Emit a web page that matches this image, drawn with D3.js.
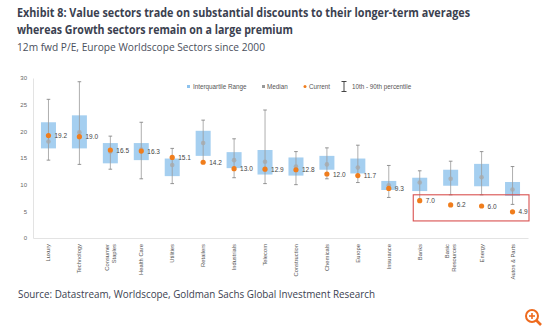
<!DOCTYPE html>
<html>
<head>
<meta charset="utf-8">
<script src="https://cdn.jsdelivr.net/npm/d3@7"></script>
<style>
  body { margin: 0; background: #fff; }
  svg { display: block; font-family: "Open Sans", "DejaVu Sans", sans-serif; }
</style>
</head>
<body>
<svg id="chart" width="554" height="330"></svg>
<script>
// sectors, left to right
var sectors = ["Luxury", "Technology", "Consumer Staples", "Health Care", "Utilities", "Retailers",
    "Industrials", "Telecom", "Construction", "Chemicals", "Europe", "Insurance", "Banks",
    "Basic Resources", "Energy", "Autos & Parts"];
// 10th / 25th / median / 75th / 90th percentile, current
var p10 = [14.6, 13.8, 12.9, 11.1, 10.2, 14.3, 11.3, 10.2, 10.0, 11.1, 10.4, 7.6, 7.3, 8.1, 8.1, 6.3];
var p25 = [16.8, 16.8, 14.0, 14.6, 11.6, 15.4, 13.1, 11.9, 11.7, 12.8, 12.1, 9.0, 8.8, 9.8, 9.7, 7.9];
var median = [18.1, 19.8, 16.2, 16.6, 13.7, 17.8, 14.6, 14.3, 13.4, 13.8, 13.2, 9.9, 10.4, 11.1, 11.4, 9.1];
var p75 = [21.7, 23.0, 17.8, 17.8, 14.9, 20.1, 16.1, 16.5, 15.1, 15.4, 14.9, 10.7, 11.3, 12.8, 13.9, 10.5];
var p90 = [26.0, 29.3, 19.1, 21.7, 16.8, 22.1, 18.6, 24.0, 16.2, 16.9, 17.4, 13.6, 12.6, 14.4, 16.2, 13.4];
var current = [19.2, 19.0, 16.5, 16.3, 15.1, 14.2, 13.0, 12.9, 12.8, 12.0, 11.7, 9.3, 7.0, 6.2, 6.0, 4.9];
var yTicks = [0, 5, 10, 15, 20, 25, 30];
var highlighted = ["Banks", "Basic Resources", "Energy", "Autos & Parts"];

var rows = sectors.map(function (s, i) {
    return { name: s, p10: p10[i], p25: p25[i], med: median[i], p75: p75[i], p90: p90[i], cur: current[i] };
});

var svg = d3.select("#chart");
var ink = "#3b4150";

// titles
svg.append("text").attr("x", 17).attr("y", 17)
    .attr("font-size", 12.5).attr("font-weight", "bold").attr("fill", ink)
    .attr("textLength", 453).attr("lengthAdjust", "spacingAndGlyphs")
    .text("Exhibit 8: Value sectors trade on substantial discounts to their longer-term averages");
svg.append("text").attr("x", 17).attr("y", 34)
    .attr("font-size", 12.5).attr("font-weight", "bold").attr("fill", ink)
    .attr("textLength", 276).attr("lengthAdjust", "spacingAndGlyphs")
    .text("whereas Growth sectors remain on a large premium");
svg.append("text").attr("x", 17).attr("y", 51)
    .attr("font-size", 11).attr("fill", "#4a4f5c")
    .attr("textLength", 248).attr("lengthAdjust", "spacingAndGlyphs")
    .text("12m fwd P/E, Europe Worldscope Sectors since 2000");
svg.append("text").attr("x", 18).attr("y", 298)
    .attr("font-size", 11).attr("fill", ink)
    .attr("textLength", 357).attr("lengthAdjust", "spacingAndGlyphs")
    .text("Source: Datastream, Worldscope, Goldman Sachs Global Investment Research");

// scales
var x = d3.scaleBand().domain(sectors).range([33, 528]).paddingInner(0).paddingOuter(0);
var y = d3.scaleLinear().domain([0, 30]).range([238, 78]);
var bw = 15;
var cx = function (d) { return x(d.name) + x.bandwidth() / 2; };

// axes
var yAxis = svg.append("g").attr("transform", "translate(33,0)")
    .call(d3.axisLeft(y).tickValues(yTicks).tickSize(0).tickPadding(6));
yAxis.select(".domain").attr("stroke", "#e3e3e3");
yAxis.selectAll("text").attr("font-size", 6).attr("fill", "#666").attr("font-family", "Liberation Sans, Arial, sans-serif");

var xAxis = svg.append("g").attr("transform", "translate(0,238)")
    .call(d3.axisBottom(x).tickSize(0).tickFormat(""));
xAxis.select(".domain").attr("stroke", "#e3e3e3");

// category labels, rotated
var labelLines = {
    "Consumer Staples": ["Consumer", "Staples"],
    "Basic Resources": ["Basic", "Resources"]
};
sectors.forEach(function (s) {
    var lines = labelLines[s] || [s];
    var g = svg.append("g")
        .attr("transform", "translate(" + (x(s) + x.bandwidth() / 2) + ",244) rotate(-90)");
    lines.forEach(function (l, k) {
        g.append("text")
            .attr("x", 0)
            .attr("y", 2 + (k - (lines.length - 1) / 2) * 6.5)
            .attr("text-anchor", "end")
            .attr("font-size", 5.8)
            .attr("fill", "#555")
            .attr("font-family", "Liberation Sans, Arial, sans-serif")
            .text(l);
    });
});

// boxes
var plot = svg.append("g");
plot.selectAll("rect.iqr").data(rows).enter().append("rect")
    .attr("class", "iqr")
    .attr("x", function (d) { return cx(d) - bw / 2; })
    .attr("width", bw)
    .attr("y", function (d) { return y(d.p75); })
    .attr("height", function (d) { return y(d.p25) - y(d.p75); })
    .attr("fill", "#a5cff0");

// whiskers
plot.selectAll("line.whisk").data(rows).enter().append("line")
    .attr("class", "whisk")
    .attr("x1", cx).attr("x2", cx)
    .attr("y1", function (d) { return y(d.p90); })
    .attr("y2", function (d) { return y(d.p10); })
    .attr("stroke", "#9a9a9a").attr("stroke-width", 0.8);
["p10", "p90"].forEach(function (k) {
    plot.selectAll("line.cap-" + k).data(rows).enter().append("line")
        .attr("x1", function (d) { return cx(d) - 1.8; })
        .attr("x2", function (d) { return cx(d) + 1.8; })
        .attr("y1", function (d) { return y(d[k]); })
        .attr("y2", function (d) { return y(d[k]); })
        .attr("stroke", "#888").attr("stroke-width", 0.9);
});

// median
plot.selectAll("circle.med").data(rows).enter().append("circle")
    .attr("cx", cx).attr("cy", function (d) { return y(d.med); })
    .attr("r", 2.3).attr("fill", "#a9a9a9").attr("fill-opacity", 0.8);

// current
plot.selectAll("circle.cur").data(rows).enter().append("circle")
    .attr("cx", cx).attr("cy", function (d) { return y(d.cur); })
    .attr("r", 2.6).attr("fill", "#f07d1c");
plot.selectAll("text.cur").data(rows).enter().append("text")
    .attr("x", function (d) { return cx(d) + 6; })
    .attr("y", function (d) { return y(d.cur) + 2.5; })
    .attr("font-size", 6.5).attr("fill", "#444")
    .attr("font-family", "Liberation Sans, Arial, sans-serif")
    .text(function (d) { return d3.format(".1f")(d.cur); });

// highlight box round the value sectors
var hx0 = x(highlighted[0]) + 9;
var hx1 = x(highlighted[highlighted.length - 1]) + x.bandwidth() + 1;
svg.append("rect")
    .attr("x", hx0).attr("y", y(8.1))
    .attr("width", hx1 - hx0).attr("height", y(3.2) - y(8.1))
    .attr("fill", "none").attr("stroke", "#d9504f").attr("stroke-width", 1.1);

// legend
var lg = svg.append("g").attr("font-size", 6.3).attr("fill", "#555")
    .attr("font-family", "Liberation Sans, Arial, sans-serif");
lg.append("rect").attr("x", 187).attr("y", 85).attr("width", 3).attr("height", 3).attr("fill", "#8ec3ee");
lg.append("text").attr("x", 193).attr("y", 88.5).text("Interquartile Range");
lg.append("rect").attr("x", 262).attr("y", 85).attr("width", 3).attr("height", 3).attr("fill", "#999");
lg.append("text").attr("x", 267).attr("y", 88.5).text("Median");
lg.append("circle").attr("cx", 305).attr("cy", 86.5).attr("r", 1.5).attr("fill", "#f07d1c");
lg.append("text").attr("x", 309).attr("y", 88.5).text("Current");
lg.append("line").attr("x1", 344).attr("x2", 344).attr("y1", 81.5).attr("y2", 91.5).attr("stroke", "#333").attr("stroke-width", 0.9);
lg.append("line").attr("x1", 341.5).attr("x2", 346.5).attr("y1", 81.5).attr("y2", 81.5).attr("stroke", "#333").attr("stroke-width", 0.9);
lg.append("line").attr("x1", 341.5).attr("x2", 346.5).attr("y1", 91.5).attr("y2", 91.5).attr("stroke", "#333").attr("stroke-width", 0.9);
lg.append("text").attr("x", 352).attr("y", 88.5).text("10th - 90th percentile");

// zoom icon, bottom right
var zi = svg.append("g").attr("transform", "translate(532,316)")
    .attr("stroke", "#ee6a1e").attr("fill", "none").attr("stroke-width", 2);
zi.append("circle").attr("r", 6);
zi.append("line").attr("x1", 4.5).attr("y1", 4.5).attr("x2", 9).attr("y2", 9).attr("stroke-width", 2.6);
zi.append("line").attr("x1", -3).attr("x2", 3).attr("y1", 0).attr("y2", 0).attr("stroke-width", 1.6);
zi.append("line").attr("x1", 0).attr("x2", 0).attr("y1", -3).attr("y2", 3).attr("stroke-width", 1.6);
</script>
</body>
</html>
